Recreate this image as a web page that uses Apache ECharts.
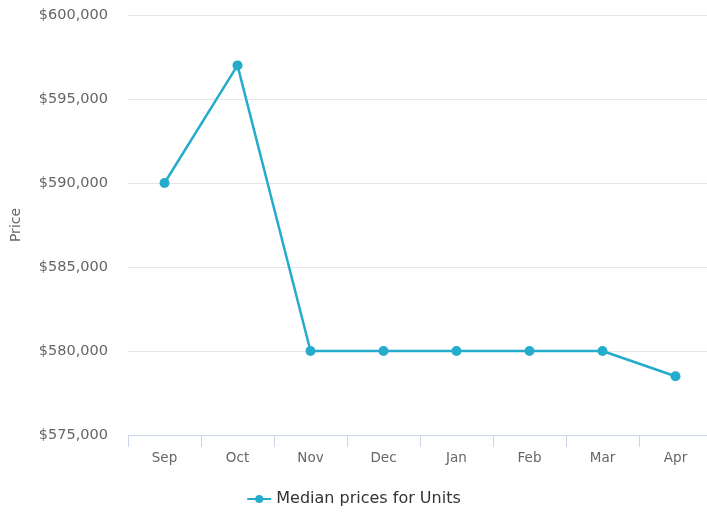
<!DOCTYPE html>
<html>
<head>
<meta charset="utf-8">
<!-- 单位中位价折线图 -->
<script src="https://cdn.jsdelivr.net/npm/echarts@6/dist/echarts.min.js"></script>
<style>
  html, body { margin: 0; padding: 0; background: #fff; }
  #chart { width: 707px; height: 513px; }
</style>
</head>
<body>
<div id="chart"></div>
<script>
  // 数据
  const months = ['Sep', 'Oct', 'Nov', 'Dec', 'Jan', 'Feb', 'Mar', 'Apr']
  const medianPrices = [590000, 597000, 580000, 580000, 580000, 580000, 580000, 578500]
  const seriesName = 'Median prices for Units'

  const lineColor = '#25abcb'
  const font = 'DejaVu Sans'

  const formatPrice = v => '$' + v.toLocaleString('en-US')

  const chart = echarts.init(document.getElementById('chart'))
  chart.setOption({
    animation: false,
    textStyle: { fontFamily: font },
    grid: {
      left: 128,
      top: 15,
      width: 584,
      height: 420,
      outerBoundsMode: 'none'
    },
    legend: {
      bottom: 1,
      left: 'center',
      itemWidth: 24,
      itemHeight: 10,
      itemGap: 6,
      textStyle: { fontSize: 16, color: '#333', fontFamily: font },
      data: [seriesName]
    },
    xAxis: {
      type: 'category',
      data: months,
      boundaryGap: true,
      axisLine: { lineStyle: { color: '#ccd6eb' } },
      axisTick: { show: true, length: 12, lineStyle: { color: '#ccd6eb' } },
      axisLabel: { color: '#666', fontSize: 13.5, margin: 16 }
    },
    yAxis: {
      type: 'value',
      min: 575000,
      max: 600000,
      interval: 5000,
      name: 'Price',
      nameLocation: 'middle',
      nameGap: 105,
      nameTextStyle: { color: '#666', fontSize: 14 },
      axisLine: { show: false },
      axisTick: { show: false },
      axisLabel: { color: '#666', fontSize: 14.5, margin: 20, formatter: formatPrice },
      splitLine: { lineStyle: { color: '#e6e6e6' } }
    },
    series: [
      {
        name: seriesName,
        type: 'line',
        data: medianPrices,
        symbol: 'circle',
        symbolSize: 10,
        lineStyle: { width: 2.5, color: lineColor },
        itemStyle: { color: lineColor }
      }
    ]
  })
</script>
</body>
</html>
